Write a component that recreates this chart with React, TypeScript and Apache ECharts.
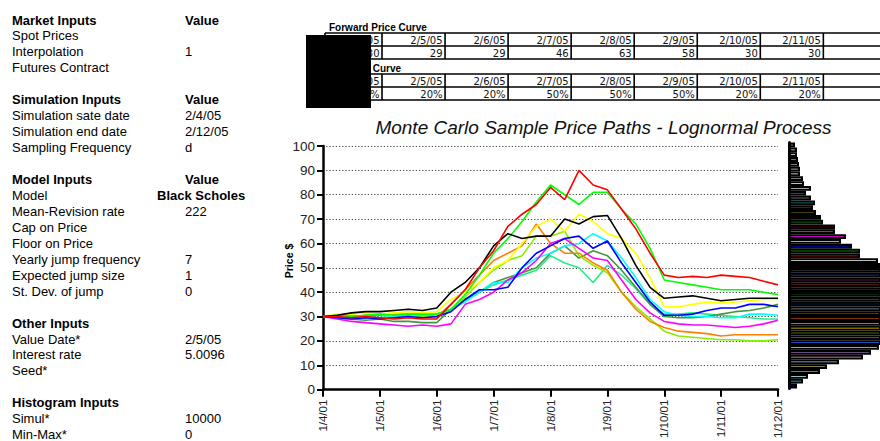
import React, { useEffect, useRef } from "react";
import * as echarts from "echarts";

// ---------- data ----------
const MONTH_TICKS = ["1/4/01", "1/5/01", "1/6/01", "1/7/01", "1/8/01", "1/9/01", "1/10/01", "1/11/01", "1/12/01"];
const SAMPLES_PER_MONTH = 4;

const PATH_RED = [30, 30, 29.5, 30, 29.5, 29, 29.5, 29, 29, 35, 41, 50, 57, 67, 72, 76, 83, 78, 90, 84, 82, 74, 66, 56, 47, 46, 46.5, 46, 47, 46.5, 46, 44.5, 43];
const PATH_GREEN = [30, 30.5, 30, 30.5, 31, 30.5, 31, 31, 31, 33, 39, 47, 56, 62, 69, 77, 84, 80, 76, 81, 81, 74, 68, 58, 45, 44, 43, 42, 41, 41, 41, 40, 39];
const PATH_BLACK = [30, 30.5, 31.5, 32, 32, 32.5, 33, 32.5, 33.5, 40, 44, 50, 59, 64, 62, 63, 63, 70, 68, 71, 71.5, 62, 51, 42, 37.5, 38, 38.5, 37.5, 36.5, 37, 37.5, 37.5, 37.5];
const PATH_YELLOW = [30, 31, 31, 31.5, 31, 31.5, 32, 31.5, 32, 37, 40, 44, 50, 53, 60, 67, 70, 65, 72, 69, 64, 62, 56, 46, 34, 34, 35, 36, 35.5, 36, 36.5, 37, 37];
const PATH_ORANGE = [30, 29.5, 30, 30.5, 30.5, 31, 31, 31, 30, 35, 41, 47, 53, 56, 59, 68, 60, 56, 56, 52, 49, 40, 33, 28, 25.5, 24, 23.5, 23, 22, 22.5, 22.5, 22.5, 22.5];
const PATH_CHARTREUSE = [30, 30, 29.5, 29, 29.5, 30, 29.5, 30, 30, 33, 38, 44, 49, 53, 55, 63, 63, 65, 55, 51, 48, 40, 34, 29, 24, 22, 21.5, 21, 20.5, 20.5, 20, 20, 20.5];
const PATH_BLUE = [30, 29.5, 29, 29.5, 29, 29.5, 30, 29.5, 30, 32, 37, 41, 41, 42, 50, 56, 59, 62, 63, 58, 61, 52, 44, 36, 30.5, 30.5, 31, 32.5, 33.5, 33.5, 35, 35, 34];
const PATH_CYAN = [30, 29.5, 29, 29.5, 29.5, 30, 30, 30.5, 31, 33, 36, 40, 44, 44, 50, 54, 56, 59, 60, 64, 61, 54, 46, 37, 32, 30.5, 30, 30, 29.5, 29.5, 31, 31, 30.5];
const PATH_MAGENTA = [30, 29, 28, 27.5, 27, 26.5, 26, 26.5, 26, 27, 35, 37, 40, 45, 48, 53, 60, 62, 58, 54, 53, 45, 37, 31.5, 28, 27, 26.5, 26.5, 26, 25.5, 26, 27, 28.5];
const PATH_DARKGREEN = [30, 29.5, 29, 28.5, 29, 28, 28, 27.5, 27.5, 33, 37, 40, 44, 46, 48, 50, 56, 59, 54, 57, 55, 49, 42, 35, 30, 29.5, 29.5, 30, 31, 32, 32.5, 33.5, 35];
const PATH_SPRING = [30, 30, 30.5, 30, 29.5, 30, 30.5, 30, 29.5, 33, 37, 40, 43, 45, 47, 49, 55, 52, 50, 44, 51, 47, 41.5, 35, 31, 31, 31.5, 31, 30.5, 30, 29.5, 29, 29];

const PATHS = [
  { name: "Path 11", color: "#22ee88", values: PATH_SPRING },
  { name: "Path 10", color: "#3f9a3f", values: PATH_DARKGREEN },
  { name: "Path 9", color: "#88ee00", values: PATH_CHARTREUSE },
  { name: "Path 8", color: "#ff8000", values: PATH_ORANGE },
  { name: "Path 7", color: "#00ffff", values: PATH_CYAN },
  { name: "Path 6", color: "#ff00ff", values: PATH_MAGENTA },
  { name: "Path 5", color: "#0000ff", values: PATH_BLUE },
  { name: "Path 4", color: "#ffff00", values: PATH_YELLOW },
  { name: "Path 3", color: "#00ff00", values: PATH_GREEN },
  { name: "Path 2", color: "#000000", values: PATH_BLACK },
  { name: "Path 1", color: "#ff0000", values: PATH_RED },
];

// histogram, bottom bin first (bar lengths beyond the visible edge are clipped)
const HIST_BINS = ["4", "6", "8", "10", "12", "14", "16", "18", "20", "22", "24", "26", "28", "30", "32", "34", "36", "38", "40", "42", "44", "46", "48", "50", "52", "54", "56", "58", "60", "62", "64", "66", "68", "70", "72", "74", "76", "78", "80", "82", "84", "86", "88", "90", "92", "94", "96", "98", "100", "102", "104"];
const HIST_COUNTS = [8, 14, 19, 31, 38, 50, 74, 82, 90, 105, 120, 135, 148, 155, 160, 162, 158, 152, 145, 138, 128, 120, 112, 104, 97, 96, 89, 71, 71, 63, 52, 57, 46, 46, 34, 32, 27, 24, 26, 22, 17, 22, 15, 14, 11, 11, 10, 9, 8, 8, 6];
const HIST_COLORS = ["#0000FF", "#00CCFF", "#CCFFFF", "#CCFFCC", "#FFFF99", "#99CCFF", "#FF99CC", "#CC99FF", "#FFCC99", "#3366FF", "#33CCCC", "#99CC00", "#FFCC00", "#FF9900", "#FF6600", "#666699", "#969696", "#003366", "#339966", "#003300", "#333300", "#993300", "#993366", "#333399", "#333333", "#000000", "#FFFFFF", "#FF0000", "#00FF00", "#0000FF", "#FFFF00", "#FF00FF", "#00FFFF", "#800000", "#008000", "#000080", "#808000", "#800080", "#008080", "#C0C0C0", "#808080", "#D9D9D9", "#FFFFFF", "#E6E6E6", "#FFFFFF", "#DDDDDD", "#FFFFFF", "#E0E0E0", "#FFFFFF", "#DDDDDD", "#FFFFFF"];

// input panel (null = blank line)
const PANEL_LINES: ([string, string] | null)[] = [
  ["Market Inputs", "Value"],
  ["Spot Prices", ""],
  ["Interpolation", "1"],
  ["Futures Contract", ""],
  null,
  ["Simulation Inputs", "Value"],
  ["Simulation sate date", "2/4/05"],
  ["Simulation end date", "2/12/05"],
  ["Sampling Frequency", "d"],
  null,
  ["Model Inputs", "Value"],
  ["Model", "Black Scholes"],
  ["Mean-Revision rate", "222"],
  ["Cap on Price", ""],
  ["Floor on Price", ""],
  ["Yearly jump frequency", "7"],
  ["Expected jump size", "1"],
  ["St. Dev. of jump", "0"],
  null,
  ["Other Inputs", ""],
  ["Value Date*", "2/5/05"],
  ["Interest rate", "5.0096"],
  ["Seed*", ""],
  null,
  ["Histogram Inputs", ""],
  ["Simul*", "10000"],
  ["Min-Max*", "0"],
];

const TABLE_DATES = ["2/4/05", "2/5/05", "2/6/05", "2/7/05", "2/8/05", "2/9/05", "2/10/05", "2/11/05"];
const FORWARD_PRICES = [30, 29, 29, 46, 63, 58, 30, 30];
const VOLATILITIES = [20, 20, 20, 50, 50, 50, 20, 20];

const TITLE = "Monte Carlo Sample Price Paths - Lognormal Process";
const Y_NAME = "Price $";

// ---------- layout ----------
const FONT = '"Liberation Sans", Arial, Helvetica, sans-serif';
const CELL_FONT = '"DejaVu Sans", "Liberation Sans", sans-serif';

function textEl(x: number, y: number, text: string, extra: any = {}) {
  const { style, ...rest } = extra;
  return {
    type: "text",
    x,
    y,
    silent: true,
    ...rest,
    style: {
      text,
      fill: "#000",
      fontFamily: FONT,
      fontSize: 13,
      align: "left",
      verticalAlign: "middle",
      ...(style || {}),
    },
  };
}

function lineEl(x1: number, y1: number, x2: number, y2: number, w = 1.6) {
  return {
    type: "line",
    silent: true,
    shape: { x1, y1, x2, y2 },
    style: { stroke: "#000", lineWidth: w },
  };
}

function buildGraphics() {
  const els: any[] = [];
  // left panel
  PANEL_LINES.forEach((ln, i) => {
    if (!ln) return;
    const y = 20 + 15.95 * i;
    const header = ln[0].endsWith("Inputs");
    els.push(textEl(12, y, ln[0], { style: { fontWeight: header ? "bold" : "normal" } }));
    if (ln[1]) {
      const boldVal = header || ln[1] === "Black Scholes";
      els.push(
        textEl(ln[1] === "Black Scholes" ? 157 : 185, y, ln[1], {
          style: { fontWeight: boldVal ? "bold" : "normal" },
        })
      );
    }
  });

  // tables
  const colRight = (i: number) => 382 + 63.05 * i;
  const tables = [
    { label: "Forward Price Curve", top: 33, values: FORWARD_PRICES.map((v) => String(v)) },
    { label: "Volatility Curve", top: 74, values: VOLATILITIES.map((v) => v + "%") },
  ];
  tables.forEach((t) => {
    const rh = 13;
    els.push(textEl(329, t.top - 6, t.label, { style: { fontSize: 10, fontWeight: "bold" } }));
    [0, 1, 2].forEach((r) => els.push(lineEl(325, t.top + r * rh, 880, t.top + r * rh)));
    els.push(lineEl(325, t.top, 325, t.top + 2 * rh));
    TABLE_DATES.forEach((_, i) => els.push(lineEl(colRight(i), t.top, colRight(i), t.top + 2 * rh)));
    TABLE_DATES.forEach((d, i) => {
      els.push(textEl(colRight(i) - 2.5, t.top + rh * 0.5 + 0.5, d, {
        style: { align: "right", fontSize: 10, fontFamily: CELL_FONT, fill: "#111" },
      }));
      els.push(textEl(colRight(i) - 2.5, t.top + rh * 1.5 + 0.5, t.values[i], {
        style: { align: "right", fontSize: 10, fontFamily: CELL_FONT, fill: "#111" },
      }));
    });
  });
  // redaction block
  els.push({ type: "rect", silent: true, z: 100, shape: { x: 306, y: 35, width: 65, height: 73 }, style: { fill: "#000" } });

  // chart title & axis name
  els.push(textEl(603.5, 127, TITLE, {
    style: { align: "center", fontSize: 19, fontStyle: "italic", fill: "#111" },
  }));
  els.push(textEl(289, 261, Y_NAME, {
    rotation: Math.PI / 2,
    style: { align: "center", fontSize: 10.5, fontWeight: "bold" },
  }));
  return els;
}

function buildOption() {
  const lineSeries = PATHS.map((p) => ({
    name: p.name,
    type: "line",
    xAxisIndex: 0,
    yAxisIndex: 0,
    data: p.values.map((v, i) => [i / SAMPLES_PER_MONTH, v]),
    showSymbol: false,
    symbol: "none",
    lineStyle: { color: p.color, width: 1.6 },
    itemStyle: { color: p.color },
    silent: true,
  }));

  const histSeries = {
    name: "Histogram",
    type: "bar",
    xAxisIndex: 1,
    yAxisIndex: 1,
    barCategoryGap: "0%",
    clip: true,
    data: HIST_COUNTS.map((c, i) => ({ value: c, itemStyle: { color: HIST_COLORS[i] } })),
    itemStyle: { borderColor: "#000", borderWidth: 2.1 },
    silent: true,
  };

  return {
    animation: false,
    backgroundColor: "#fff",
    grid: [
      { left: 323, top: 146, width: 455, height: 249, containLabel: false },
      { left: 789, top: 142.6, right: 0, height: 245.8, containLabel: false },
    ],
    xAxis: [
      {
        gridIndex: 0,
        type: "value",
        min: 0,
        max: MONTH_TICKS.length - 1,
        interval: 1,
        axisLine: { show: true, onZero: false, lineStyle: { color: "#000", width: 2.5 } },
        axisTick: { show: true, length: 7, lineStyle: { color: "#000", width: 2 } },
        axisLabel: {
          rotate: 90,
          margin: 10,
          fontSize: 11.5,
          fontFamily: FONT,
          color: "#222",
          showMinLabel: true,
          showMaxLabel: true,
          formatter: (v: number) => MONTH_TICKS[Math.round(v)] ?? "",
        },
        splitLine: { show: false },
      },
      { gridIndex: 1, type: "value", min: 0, max: 91, show: false },
    ],
    yAxis: [
      {
        gridIndex: 0,
        type: "value",
        min: 0,
        max: 100,
        interval: 10,
        axisLine: { show: true, onZero: false, lineStyle: { color: "#000", width: 2.5 } },
        axisTick: { show: true, length: 6, lineStyle: { color: "#000", width: 2 } },
        axisLabel: { margin: 8, fontSize: 13.5, fontFamily: FONT, color: "#222" },
        splitLine: { show: true, lineStyle: { color: "#444", width: 1.2, type: [1.2, 2] } },
      },
      {
        gridIndex: 1,
        type: "category",
        data: HIST_BINS,
        axisLine: { show: true, lineStyle: { color: "#000", width: 3 } },
        axisTick: { show: false },
        axisLabel: { show: false },
        splitLine: { show: false },
      },
    ],
    series: [...lineSeries, histSeries],
    graphic: { elements: buildGraphics() },
  };
}

export default function App() {
  const ref = useRef<HTMLDivElement>(null);
  useEffect(() => {
    if (!ref.current) return;
    const chart = echarts.init(ref.current, null, { renderer: "svg" });
    chart.setOption(buildOption() as any);
    return () => chart.dispose();
  }, []);
  return (
    <div
      ref={ref}
      style={{ position: "fixed", left: 0, top: 0, width: 880, height: 441, background: "#fff" }}
    />
  );
}
